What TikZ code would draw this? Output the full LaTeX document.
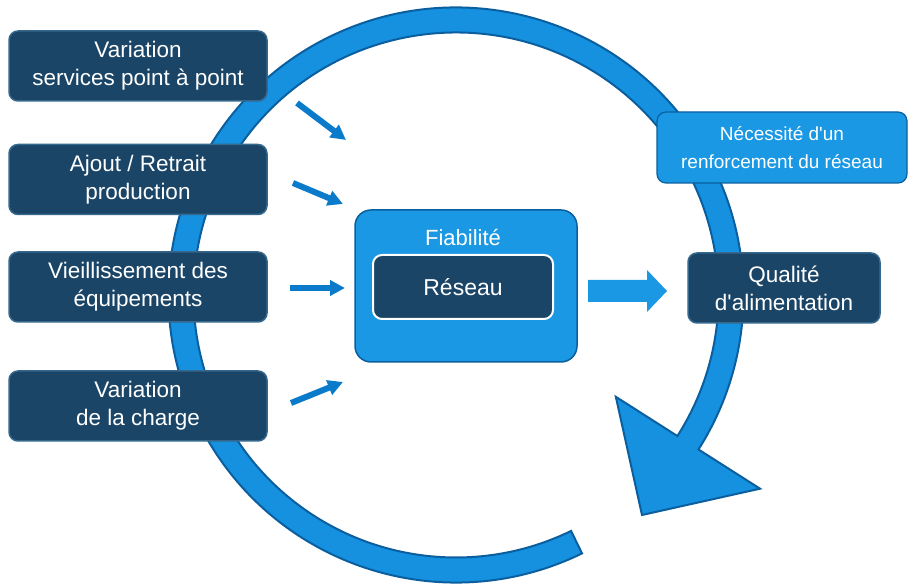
\documentclass[tikz,border=0pt]{standalone}
\usepackage{fontspec}
\setmainfont{Liberation Sans}
\usetikzlibrary{arrows.meta}
\definecolor{navy}{HTML}{1A4567}
\definecolor{navyedge}{HTML}{36678C}
\definecolor{ringblue}{HTML}{1591DF}
\definecolor{ringedge}{HTML}{0B5F9F}
\definecolor{boxblue}{HTML}{1A98E4}
\definecolor{arrowblue}{HTML}{0A7BCB}
\tikzset{
  darkbox/.style={draw=navyedge, line width=1.5pt, fill=navy, rounded corners=9pt,
    text=white, align=center, inner sep=0pt, minimum width=258pt, minimum height=70pt,
    font=\fontsize{22.5}{28}\selectfont},
  lightbox/.style={draw=ringedge, line width=1.2pt, fill=boxblue, rounded corners=9pt,
    text=white, align=center, inner sep=0pt,
    font=\fontsize{19}{28}\selectfont},
  smallarrow/.style={draw=arrowblue, line width=6pt, -{Triangle[length=15pt,width=15pt]}},
}
\begin{document}
\begin{tikzpicture}[x=1pt,y=1pt]
\useasboundingbox (0,0) rectangle (910,586);
\fill[white] (0,0) rectangle (910,586);
% ring with arrow head
\begin{scope}[shift={(456,291)}]
\filldraw[fill=ringblue, draw=ringedge, line width=2pt, line join=miter]
  (-64:287.5) arc[start angle=-64, end angle=-392.5, radius=287.5]
  -- (-32.5:360.5) -- (186,-220) -- (-32.5:189.5) -- (-32.5:262.5)
  arc[start angle=-392.5, end angle=-64, radius=262.5] -- cycle;
\end{scope}
% left boxes
\node[darkbox] (b1) at (138,520) {Variation\\services point à point};
\node[darkbox] (b2) at (138,406.5) {Ajout / Retrait\\production};
\node[darkbox] (b3) at (138,299) {Vieillissement des\\équipements};
\node[darkbox] (b4) at (138,180) {Variation\\de la charge};
% centre
\node[draw=ringedge, line width=1.5pt, fill=boxblue, rounded corners=16pt,
  minimum width=222pt, minimum height=152pt, inner sep=0pt] (fiab) at (466,300) {};
\node[text=white, font=\fontsize{22}{24}\selectfont] (fiabt) at (463,348) {Fiabilité};
\node[draw=white, line width=2pt, fill=navy, rounded corners=9pt, text=white,
  minimum width=180pt, minimum height=64pt, inner sep=0pt,
  font=\fontsize{23}{26}\selectfont] (res) at (463,299) {Réseau};
% right boxes
\node[lightbox, minimum width=250pt, minimum height=71pt] (nec) at (782,438.5)
  {Nécessité d\textquotesingle un\\renforcement du réseau};
\node[darkbox, minimum width=192pt] (qual) at (784,298) {Qualité\\d\textquotesingle alimentation};
% big arrow
\fill[boxblue] (588,284) -- (647,284) -- (647,274) -- (667,295) -- (647,316)
  -- (647,306) -- (588,306) -- cycle;
% small arrows
\coordinate (s1) at (297,483); \coordinate (e1) at (346,446);
\coordinate (s2) at (293,403); \coordinate (e2) at (343,382);
\coordinate (s3) at (290,298); \coordinate (e3) at (345,298);
\coordinate (s4) at (291,183); \coordinate (e4) at (343,204);
\draw[smallarrow] (s1) -- (e1);
\draw[smallarrow] (s2) -- (e2);
\draw[smallarrow] (s3) -- (e3);
\draw[smallarrow] (s4) -- (e4);
\end{tikzpicture}
\end{document}
